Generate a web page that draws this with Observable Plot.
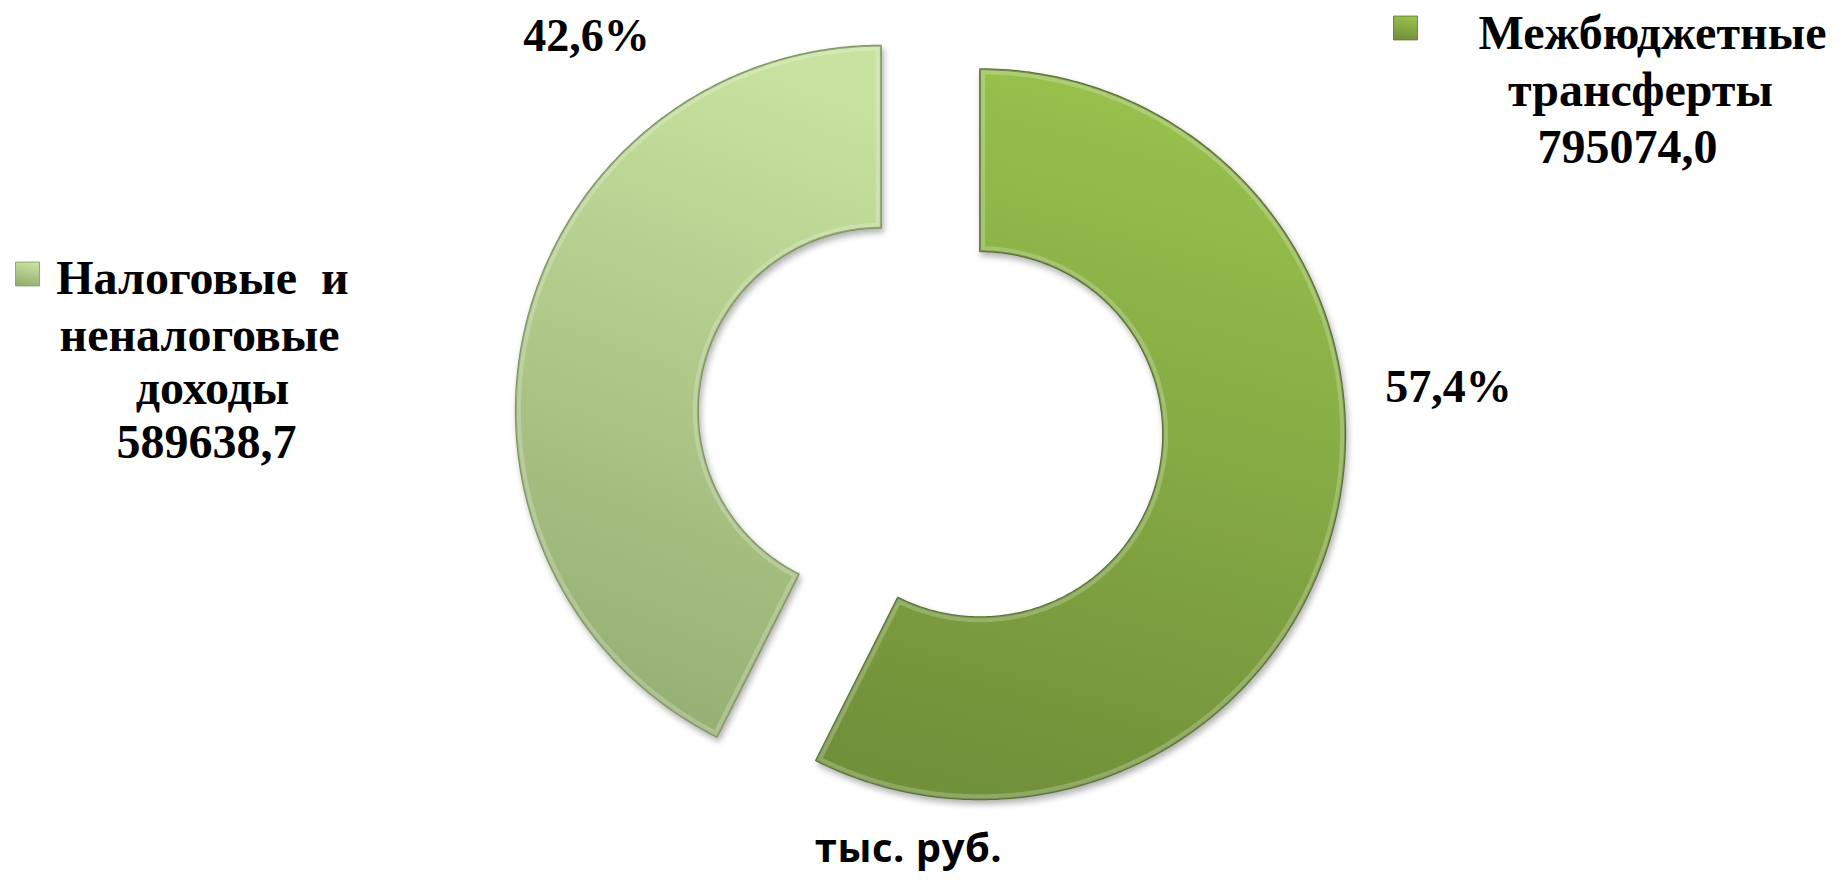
<!DOCTYPE html>
<html>
<head>
<meta charset="utf-8">
<script src="https://cdn.jsdelivr.net/npm/d3@7"></script>
<script src="https://cdn.jsdelivr.net/npm/@observablehq/plot@0.6"></script>
<style>
  html, body { margin: 0; padding: 0; background: #ffffff; }
  #chart { width: 1839px; height: 880px; overflow: hidden; }
</style>
</head>
<body>
<div id="chart"></div>
<script>
// ---------------- DATA ----------------
const categories = ["Межбюджетные трансферты", "Налоговые и неналоговые доходы"];
const values = [795074.0, 589638.7];
const legendLines = [
  ["Межбюджетные", "трансферты"],
  ["Налоговые\u00A0\u00A0и", "неналоговые", "доходы"]
];
const unitCaption = "тыс. руб.";

// ---------------- STYLE ----------------
const gradientIds = ["gradGreen", "gradLight"];
const gradientStops = [["#99c24d", "#71903a"], ["#c8e29f", "#95ae72"]];
const edgeColors = ["#55722a", "#7b965a"];

// ---------------- LAYOUT (pixels) ----------------
const W = 1839, H = 880;
const CX = 930, CY = 422, RPX = 365;   // donut centre and outer radius
const INNER = 183 / 365;               // hole radius relative to outer
const EXPLODE = 51 / 365;              // slice explosion relative to outer
const tx = px => (px - CX) / RPX;
const ty = py => (CY - py) / RPX;

const percentPos = [[1448, 401], [586, 50]];
const legendLinePos = [
  [[1652, 48], [1640, 105], [1627, 162]],
  [[202, 293], [199, 350], [212, 403], [206, 457]]
];
const legendMarkerPos = [[1405, 27.5], [27, 273.5]];
const captionPos = [908, 861];

// ---------------- GEOMETRY from values ----------------
const total = d3.sum(values);
const fmtValue = v => d3.format(".1f")(v).replace(".", ",");
const fmtPct = v => d3.format(".1f")(v / total * 100).replace(".", ",") + "%";

let acc = 0;
const slices = values.map((v, i) => {
  const a0 = acc / total * 2 * Math.PI;
  acc += v;
  const a1 = acc / total * 2 * Math.PI;
  return {i, a0, a1};
});

function slicePoints(s) {
  const mid = (s.a0 + s.a1) / 2;
  const ox = EXPLODE * Math.sin(mid), oy = EXPLODE * Math.cos(mid);
  const n = 240, pts = [];
  for (let k = 0; k <= n; k++) {
    const a = s.a0 + (s.a1 - s.a0) * k / n;
    pts.push({x: ox + Math.sin(a), y: oy + Math.cos(a)});
  }
  for (let k = n; k >= 0; k--) {
    const a = s.a0 + (s.a1 - s.a0) * k / n;
    pts.push({x: ox + INNER * Math.sin(a), y: oy + INNER * Math.cos(a)});
  }
  return pts;
}

// text rows
const textRows = [];
values.forEach((v, i) => {
  textRows.push({t: fmtPct(v), x: tx(percentPos[i][0]), y: ty(percentPos[i][1]), size: 46});
  const lines = [...legendLines[i], fmtValue(v)];
  lines.forEach((t, j) => {
    textRows.push({t, x: tx(legendLinePos[i][j][0]), y: ty(legendLinePos[i][j][1]), size: 48});
  });
});
const markers = values.map((v, i) => ({x: tx(legendMarkerPos[i][0]), y: ty(legendMarkerPos[i][1]), i}));

const marks = [];
slices.forEach(s => {
  marks.push(Plot.line(slicePoints(s), {
    x: "x", y: "y",
    fill: `url(#${gradientIds[s.i]})`,
    stroke: edgeColors[s.i],
    strokeWidth: 2,
    curve: "linear-closed"
  }));
});
markers.forEach(m => {
  marks.push(Plot.dot([m], {
    x: "x", y: "y", symbol: "square", r: 13.5,
    fill: `url(#${gradientIds[m.i]})`, stroke: edgeColors[m.i], strokeWidth: 0.8
  }));
});
marks.push(Plot.text(textRows, {
  x: "x", y: "y", text: "t", fontSize: d => d.size,
  textAnchor: "middle", lineAnchor: "bottom",
  fontFamily: "Liberation Serif, 'Times New Roman', serif", fontWeight: "bold", fill: "#000"
}));
marks.push(Plot.text([unitCaption], {
  x: tx(captionPos[0]), y: ty(captionPos[1]), text: d => d,
  textAnchor: "middle", lineAnchor: "bottom",
  fontFamily: "'Open Sans', Lato, sans-serif", fontWeight: "bold", fontSize: 40, fill: "#000"
}));

const chart = Plot.plot({
  width: W, height: H,
  margin: 0,
  x: {domain: [tx(0), tx(W)], range: [0, W], axis: null},
  y: {domain: [ty(H), ty(0)], range: [H, 0], axis: null},
  style: {background: "#ffffff"},
  marks
});

// gradients, bevel highlight and shadow
const svg = d3.select(chart);
const defs = svg.insert("defs", ":first-child");
gradientIds.forEach((id, i) => {
  const g = defs.append("linearGradient").attr("id", id)
    .attr("x1", 0.6).attr("y1", 0).attr("x2", 0.4).attr("y2", 1);
  g.append("stop").attr("offset", "0%").attr("stop-color", gradientStops[i][0]);
  g.append("stop").attr("offset", "100%").attr("stop-color", gradientStops[i][1]);
});
svg.selectAll('g[aria-label="line"] path').each(function(_, k) {
  const p = d3.select(this);
  p.style("filter", "drop-shadow(2px 4px 3px rgba(0,0,0,0.3))");
  const d = p.attr("d");
  const cid = "sliceClip" + k;
  defs.append("clipPath").attr("id", cid).append("path").attr("d", d);
  d3.select(this.parentNode).append("path")
    .attr("d", d)
    .attr("fill", "none")
    .attr("stroke", "rgba(255,255,255,0.22)")
    .attr("stroke-width", 10)
    .attr("clip-path", `url(#${cid})`);
});
svg.selectAll("text").filter(function() { return this.textContent === unitCaption || (this.querySelector && false); })
  .style("letter-spacing", "0.5px");

document.getElementById("chart").appendChild(chart);
</script>
</body>
</html>
